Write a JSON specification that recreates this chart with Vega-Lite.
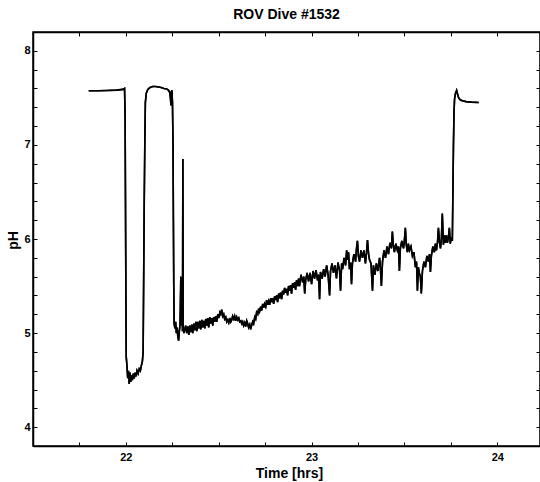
{
  "$schema": "https://vega.github.io/schema/vega-lite/v6.json",
  "width": 507,
  "height": 414,
  "autosize": {"type": "none"},
  "padding": {"left": 33, "top": 32, "right": 0, "bottom": 36},
  "background": "white",
  "title": {"text": "ROV Dive #1532", "font": "Liberation Sans", "fontSize": 14, "fontWeight": "bold", "color": "black", "anchor": "middle", "baseline": "alphabetic", "offset": -1},
  "data": {"values": [
    {"t": 21.800, "pH": 7.575}, {"t": 21.850, "pH": 7.575}, {"t": 21.900, "pH": 7.578}, {"t": 21.950, "pH": 7.582}, {"t": 21.985, "pH": 7.590}, {"t": 21.993, "pH": 7.600},
    {"t": 21.996, "pH": 7.30}, {"t": 21.998, "pH": 6.40}, {"t": 22.000, "pH": 5.50}, {"t": 22.002, "pH": 4.75}, {"t": 22.006, "pH": 4.65}, {"t": 22.010, "pH": 4.52},
    {"t": 22.014, "pH": 4.60}, {"t": 22.018, "pH": 4.46}, {"t": 22.022, "pH": 4.58}, {"t": 22.026, "pH": 4.48}, {"t": 22.030, "pH": 4.55}, {"t": 22.035, "pH": 4.50},
    {"t": 22.040, "pH": 4.57}, {"t": 22.045, "pH": 4.52}, {"t": 22.050, "pH": 4.58}, {"t": 22.055, "pH": 4.54}, {"t": 22.060, "pH": 4.60}, {"t": 22.066, "pH": 4.57},
    {"t": 22.072, "pH": 4.62}, {"t": 22.078, "pH": 4.60}, {"t": 22.084, "pH": 4.66}, {"t": 22.089, "pH": 4.70}, {"t": 22.093, "pH": 4.80}, {"t": 22.096, "pH": 5.60},
    {"t": 22.099, "pH": 6.40}, {"t": 22.102, "pH": 7.00}, {"t": 22.105, "pH": 7.45}, {"t": 22.110, "pH": 7.55}, {"t": 22.118, "pH": 7.59}, {"t": 22.130, "pH": 7.61},
    {"t": 22.145, "pH": 7.62}, {"t": 22.160, "pH": 7.62}, {"t": 22.175, "pH": 7.615}, {"t": 22.190, "pH": 7.61}, {"t": 22.205, "pH": 7.60}, {"t": 22.220, "pH": 7.595},
    {"t": 22.230, "pH": 7.58}, {"t": 22.236, "pH": 7.56}, {"t": 22.240, "pH": 7.50}, {"t": 22.243, "pH": 7.42}, {"t": 22.245, "pH": 7.56}, {"t": 22.248, "pH": 7.58},
    {"t": 22.251, "pH": 7.45}, {"t": 22.254, "pH": 7.00}, {"t": 22.256, "pH": 6.20}, {"t": 22.258, "pH": 5.50}, {"t": 22.260, "pH": 5.10}, {"t": 22.264, "pH": 5.05},
    {"t": 22.268, "pH": 5.12}, {"t": 22.272, "pH": 5.00}, {"t": 22.276, "pH": 5.06}, {"t": 22.280, "pH": 4.96}, {"t": 22.284, "pH": 4.92}, {"t": 22.288, "pH": 5.02},
    {"t": 22.292, "pH": 5.10}, {"t": 22.296, "pH": 5.60}, {"t": 22.299, "pH": 5.08}, {"t": 22.302, "pH": 5.55}, {"t": 22.305, "pH": 5.02}, {"t": 22.307, "pH": 6.85},
    {"t": 22.309, "pH": 5.05}, {"t": 22.313, "pH": 5.00},
    {"t": 22.322, "pH": 5.08}, {"t": 22.328, "pH": 5.00}, {"t": 22.334, "pH": 5.07}, {"t": 22.339, "pH": 4.98}, {"t": 22.344, "pH": 5.08}, {"t": 22.349, "pH": 5.01}, {"t": 22.355, "pH": 5.09}, {"t": 22.360, "pH": 5.00}, {"t": 22.366, "pH": 5.10}, {"t": 22.371, "pH": 5.03}, {"t": 22.377, "pH": 5.12}, {"t": 22.382, "pH": 5.02},
    {"t": 22.387, "pH": 5.12}, {"t": 22.392, "pH": 5.05}, {"t": 22.398, "pH": 5.13}, {"t": 22.403, "pH": 5.04}, {"t": 22.409, "pH": 5.14}, {"t": 22.414, "pH": 5.06}, {"t": 22.420, "pH": 5.13}, {"t": 22.425, "pH": 5.05}, {"t": 22.430, "pH": 5.15}, {"t": 22.435, "pH": 5.08}, {"t": 22.441, "pH": 5.16}, {"t": 22.446, "pH": 5.06},
    {"t": 22.452, "pH": 5.17}, {"t": 22.457, "pH": 5.10}, {"t": 22.463, "pH": 5.16}, {"t": 22.468, "pH": 5.08}, {"t": 22.473, "pH": 5.17}, {"t": 22.478, "pH": 5.12}, {"t": 22.484, "pH": 5.18}, {"t": 22.489, "pH": 5.12}, {"t": 22.495, "pH": 5.20}, {"t": 22.500, "pH": 5.16}, {"t": 22.506, "pH": 5.22}, {"t": 22.511, "pH": 5.20},
    {"t": 22.516, "pH": 5.25}, {"t": 22.522, "pH": 5.18}, {"t": 22.527, "pH": 5.20}, {"t": 22.532, "pH": 5.15}, {"t": 22.538, "pH": 5.17}, {"t": 22.543, "pH": 5.12}, {"t": 22.548, "pH": 5.14}, {"t": 22.554, "pH": 5.11}, {"t": 22.559, "pH": 5.16}, {"t": 22.565, "pH": 5.12}, {"t": 22.570, "pH": 5.14},
    {"t": 22.575, "pH": 5.18}, {"t": 22.581, "pH": 5.15}, {"t": 22.586, "pH": 5.18}, {"t": 22.591, "pH": 5.13}, {"t": 22.597, "pH": 5.17}, {"t": 22.602, "pH": 5.14}, {"t": 22.608, "pH": 5.16}, {"t": 22.613, "pH": 5.12}, {"t": 22.619, "pH": 5.13}, {"t": 22.624, "pH": 5.10}, {"t": 22.629, "pH": 5.12}, {"t": 22.634, "pH": 5.08},
    {"t": 22.640, "pH": 5.11}, {"t": 22.645, "pH": 5.07}, {"t": 22.651, "pH": 5.13}, {"t": 22.656, "pH": 5.10}, {"t": 22.661, "pH": 5.06}, {"t": 22.667, "pH": 5.09}, {"t": 22.672, "pH": 5.04}, {"t": 22.677, "pH": 5.08}, {"t": 22.683, "pH": 5.12}, {"t": 22.688, "pH": 5.10}, {"t": 22.694, "pH": 5.17}, {"t": 22.699, "pH": 5.15},
    {"t": 22.704, "pH": 5.22}, {"t": 22.710, "pH": 5.20}, {"t": 22.715, "pH": 5.26}, {"t": 22.720, "pH": 5.23}, {"t": 22.726, "pH": 5.28}, {"t": 22.731, "pH": 5.24}, {"t": 22.737, "pH": 5.31}, {"t": 22.742, "pH": 5.27}, {"t": 22.747, "pH": 5.31}, {"t": 22.753, "pH": 5.28}, {"t": 22.758, "pH": 5.35}, {"t": 22.763, "pH": 5.30},
    {"t": 22.769, "pH": 5.34}, {"t": 22.774, "pH": 5.30}, {"t": 22.780, "pH": 5.37}, {"t": 22.785, "pH": 5.33}, {"t": 22.790, "pH": 5.37}, {"t": 22.796, "pH": 5.31}, {"t": 22.801, "pH": 5.39}, {"t": 22.806, "pH": 5.35}, {"t": 22.812, "pH": 5.40}, {"t": 22.817, "pH": 5.33}, {"t": 22.823, "pH": 5.42}, {"t": 22.828, "pH": 5.37},
    {"t": 22.833, "pH": 5.43}, {"t": 22.839, "pH": 5.36}, {"t": 22.844, "pH": 5.45}, {"t": 22.849, "pH": 5.41}, {"t": 22.855, "pH": 5.48}, {"t": 22.860, "pH": 5.43}, {"t": 22.866, "pH": 5.47}, {"t": 22.871, "pH": 5.40}, {"t": 22.876, "pH": 5.50}, {"t": 22.882, "pH": 5.45}, {"t": 22.887, "pH": 5.51}, {"t": 22.892, "pH": 5.42},
    {"t": 22.898, "pH": 5.53}, {"t": 22.903, "pH": 5.48}, {"t": 22.909, "pH": 5.54}, {"t": 22.914, "pH": 5.46}, {"t": 22.919, "pH": 5.56}, {"t": 22.925, "pH": 5.50},
    {"t": 22.930, "pH": 5.58}, {"t": 22.935, "pH": 5.50}, {"t": 22.943, "pH": 5.62}, {"t": 22.952, "pH": 5.54}, {"t": 22.958, "pH": 5.60}, {"t": 22.963, "pH": 5.42}, {"t": 22.968, "pH": 5.56}, {"t": 22.976, "pH": 5.64}, {"t": 22.984, "pH": 5.55}, {"t": 22.992, "pH": 5.64}, {"t": 23.000, "pH": 5.52}, {"t": 23.008, "pH": 5.66}, {"t": 23.016, "pH": 5.58},
    {"t": 23.024, "pH": 5.67}, {"t": 23.032, "pH": 5.56}, {"t": 23.038, "pH": 5.62}, {"t": 23.043, "pH": 5.36}, {"t": 23.048, "pH": 5.65}, {"t": 23.057, "pH": 5.58}, {"t": 23.065, "pH": 5.68}, {"t": 23.073, "pH": 5.60}, {"t": 23.081, "pH": 5.72}, {"t": 23.089, "pH": 5.62}, {"t": 23.097, "pH": 5.40},
    {"t": 23.102, "pH": 5.66}, {"t": 23.110, "pH": 5.74}, {"t": 23.118, "pH": 5.64}, {"t": 23.126, "pH": 5.72}, {"t": 23.134, "pH": 5.58}, {"t": 23.142, "pH": 5.75}, {"t": 23.151, "pH": 5.66}, {"t": 23.156, "pH": 5.45}, {"t": 23.162, "pH": 5.74}, {"t": 23.167, "pH": 5.68},
    {"t": 23.175, "pH": 5.80}, {"t": 23.183, "pH": 5.72}, {"t": 23.189, "pH": 5.88}, {"t": 23.194, "pH": 5.78}, {"t": 23.199, "pH": 5.86}, {"t": 23.204, "pH": 5.68}, {"t": 23.210, "pH": 5.75}, {"t": 23.215, "pH": 5.52}, {"t": 23.220, "pH": 5.74}, {"t": 23.228, "pH": 5.84}, {"t": 23.237, "pH": 5.76},
    {"t": 23.242, "pH": 5.90}, {"t": 23.247, "pH": 5.98}, {"t": 23.252, "pH": 5.82}, {"t": 23.258, "pH": 5.76}, {"t": 23.266, "pH": 5.88}, {"t": 23.274, "pH": 5.80}, {"t": 23.282, "pH": 5.88}, {"t": 23.290, "pH": 5.74}, {"t": 23.296, "pH": 5.86}, {"t": 23.301, "pH": 5.99}, {"t": 23.307, "pH": 5.84}, {"t": 23.312, "pH": 5.78},
    {"t": 23.320, "pH": 5.74}, {"t": 23.328, "pH": 5.45}, {"t": 23.333, "pH": 5.72}, {"t": 23.341, "pH": 5.62}, {"t": 23.349, "pH": 5.74}, {"t": 23.357, "pH": 5.66}, {"t": 23.366, "pH": 5.80}, {"t": 23.371, "pH": 5.68}, {"t": 23.376, "pH": 5.50}, {"t": 23.382, "pH": 5.76},
    {"t": 23.390, "pH": 5.88}, {"t": 23.398, "pH": 5.80}, {"t": 23.406, "pH": 5.92}, {"t": 23.414, "pH": 5.84}, {"t": 23.422, "pH": 5.96}, {"t": 23.430, "pH": 5.90}, {"t": 23.435, "pH": 6.08}, {"t": 23.440, "pH": 5.94}, {"t": 23.446, "pH": 5.86}, {"t": 23.454, "pH": 5.95}, {"t": 23.462, "pH": 5.88},
    {"t": 23.468, "pH": 5.92}, {"t": 23.473, "pH": 5.66}, {"t": 23.478, "pH": 5.90}, {"t": 23.486, "pH": 5.98}, {"t": 23.495, "pH": 5.90}, {"t": 23.500, "pH": 5.99}, {"t": 23.505, "pH": 6.12}, {"t": 23.510, "pH": 5.94}, {"t": 23.516, "pH": 5.86}, {"t": 23.521, "pH": 5.95}, {"t": 23.527, "pH": 5.88},
    {"t": 23.535, "pH": 5.92}, {"t": 23.543, "pH": 5.82}, {"t": 23.551, "pH": 5.86}, {"t": 23.559, "pH": 5.70}, {"t": 23.565, "pH": 5.76}, {"t": 23.570, "pH": 5.45}, {"t": 23.575, "pH": 5.70}, {"t": 23.580, "pH": 5.64}, {"t": 23.586, "pH": 5.60}, {"t": 23.591, "pH": 5.42},
    {"t": 23.597, "pH": 5.66}, {"t": 23.605, "pH": 5.76}, {"t": 23.613, "pH": 5.70}, {"t": 23.621, "pH": 5.82}, {"t": 23.629, "pH": 5.76}, {"t": 23.635, "pH": 5.84}, {"t": 23.640, "pH": 5.65}, {"t": 23.645, "pH": 5.82}, {"t": 23.653, "pH": 5.92}, {"t": 23.661, "pH": 5.86},
    {"t": 23.667, "pH": 5.95}, {"t": 23.672, "pH": 5.88}, {"t": 23.678, "pH": 5.96}, {"t": 23.683, "pH": 6.12}, {"t": 23.688, "pH": 5.98}, {"t": 23.694, "pH": 5.90}, {"t": 23.699, "pH": 6.00}, {"t": 23.704, "pH": 6.27}, {"t": 23.710, "pH": 5.94}, {"t": 23.715, "pH": 6.04}, {"t": 23.720, "pH": 5.96},
    {"t": 23.726, "pH": 6.04}, {"t": 23.731, "pH": 5.96}, {"t": 23.737, "pH": 6.02}, {"t": 23.742, "pH": 6.12}, {"t": 23.747, "pH": 5.95}, {"t": 23.752, "pH": 6.02}, {"t": 23.758, "pH": 5.98},
    {"t": 23.761, "pH": 6.50}, {"t": 23.764, "pH": 7.00}, {"t": 23.767, "pH": 7.35}, {"t": 23.770, "pH": 7.49}, {"t": 23.775, "pH": 7.55}, {"t": 23.781, "pH": 7.58},
    {"t": 23.786, "pH": 7.54}, {"t": 23.792, "pH": 7.50}, {"t": 23.800, "pH": 7.48}, {"t": 23.812, "pH": 7.47}, {"t": 23.832, "pH": 7.46}, {"t": 23.860, "pH": 7.455},
    {"t": 23.900, "pH": 7.45}
  ]},
  "layer": [
    {
      "mark": {"type": "line", "color": "black", "strokeWidth": 1.6, "clip": true},
      "encoding": {
        "x": {"field": "t", "type": "quantitative", "scale": {"domain": [21.5, 24.23], "nice": false, "zero": false},
          "axis": {"orient": "bottom", "values": [21.75, 22, 22.25, 22.5, 22.75, 23, 23.25, 23.5, 23.75, 24], "tickSize": -4, "grid": false,
            "labelExpr": "datum.value % 1 === 0 ? format(datum.value, 'd') : ''", "labelPadding": 9, "labelFontSize": 11, "labelFontWeight": "bold",
            "title": "Time [hrs]", "titleFontSize": 14, "titleFontWeight": "bold", "titleY": 27, "titleBaseline": "middle", "titleX": 256}},
        "y": {"field": "pH", "type": "quantitative", "scale": {"domain": [3.8, 8.2], "nice": false, "zero": false},
          "axis": {"orient": "left", "values": [4, 4.2, 4.4, 4.6, 4.8, 5, 5.2, 5.4, 5.6, 5.8, 6, 6.2, 6.4, 6.6, 6.8, 7, 7.2, 7.4, 7.6, 7.8, 8], "tickSize": -4, "grid": false,
            "labelExpr": "datum.value % 1 === 0 ? format(datum.value, 'd') : ''", "labelPadding": 7, "labelFontSize": 11, "labelFontWeight": "bold",
            "title": "pH", "titleFontSize": 14, "titleFontWeight": "bold", "titleX": -20, "titleY": 208, "titleAngle": -90, "titleAlign": "center", "titleBaseline": "middle"}}
      }
    },
    {
      "mark": {"type": "line", "color": "black", "strokeWidth": 1.6, "clip": true},
      "encoding": {
        "x": {"field": "t", "type": "quantitative", "axis": {"orient": "top", "values": [21.75, 22, 22.25, 22.5, 22.75, 23, 23.25, 23.5, 23.75, 24], "tickSize": -4, "labels": false, "title": null, "grid": false}},
        "y": {"field": "pH", "type": "quantitative", "axis": {"orient": "right", "values": [4, 4.2, 4.4, 4.6, 4.8, 5, 5.2, 5.4, 5.6, 5.8, 6, 6.2, 6.4, 6.6, 6.8, 7, 7.2, 7.4, 7.6, 7.8, 8], "tickSize": -4, "labels": false, "title": null, "grid": false}}
      }
    }
  ],
  "resolve": {"axis": {"x": "independent", "y": "independent"}},
  "config": {
    "view": {"stroke": "black", "strokeWidth": 1.5},
    "axis": {"domainColor": "black", "domainWidth": 1.5, "tickColor": "black", "tickWidth": 1, "labelColor": "black", "titleColor": "black", "labelFont": "Liberation Sans", "titleFont": "Liberation Sans"}
  }
}
